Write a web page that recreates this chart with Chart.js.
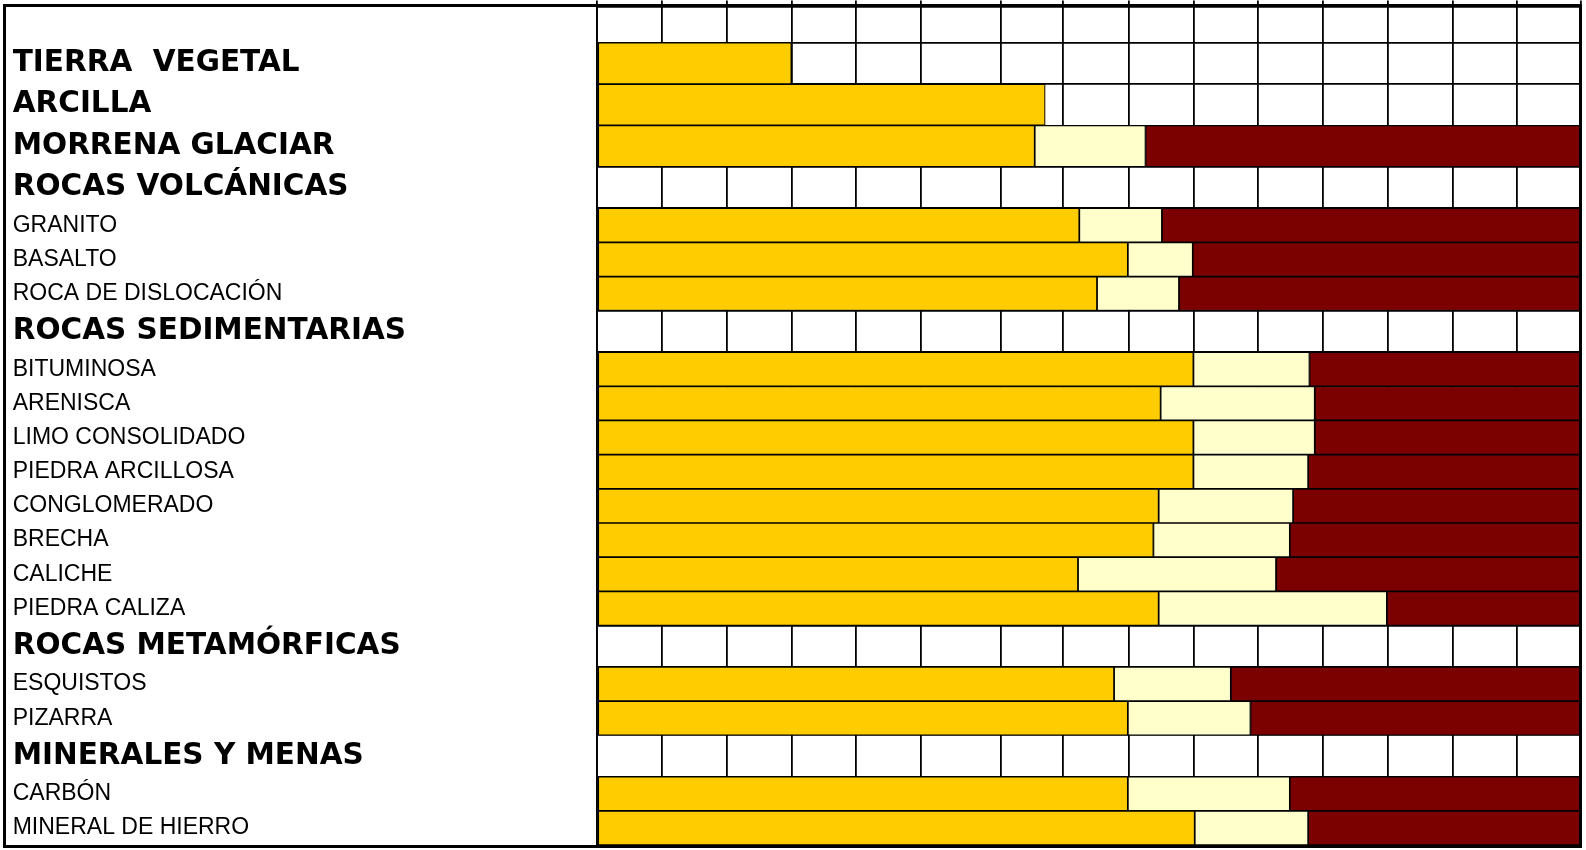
<!DOCTYPE html>
<html lang="es">
<head>
  <meta charset="UTF-8">
  <title>Ripabilidad según velocidad sísmica</title>
  <script src="https://cdn.jsdelivr.net/npm/chart.js"></script>
  <style>
    body {
      margin: 0;
      background: #fff;
    }
    #wrap {
      position: relative;
      width: 1586px;
      height: 850px;
    }
    /* marco negro grueso de la tabla */
    #frame {
      position: absolute;
      left: 3px;
      top: 4px;
      width: 1573px;
      height: 838px;
      border: 3px solid #000;
      pointer-events: none;
    }
  </style>
</head>
<body>
<div id="wrap">
  <canvas id="ripChart"></canvas>
  <div id="frame"></div>
</div>

<script>
  // filas de la tabla (de arriba a abajo)
  const rowLabels = [
    'TIERRA  VEGETAL', 'ARCILLA', 'MORRENA GLACIAR',
    'ROCAS VOLCÁNICAS', 'GRANITO', 'BASALTO', 'ROCA DE DISLOCACIÓN',
    'ROCAS SEDIMENTARIAS', 'BITUMINOSA', 'ARENISCA', 'LIMO CONSOLIDADO',
    'PIEDRA ARCILLOSA', 'CONGLOMERADO', 'BRECHA', 'CALICHE', 'PIEDRA CALIZA',
    'ROCAS METAMÓRFICAS', 'ESQUISTOS', 'PIZARRA',
    'MINERALES Y MENAS', 'CARBÓN', 'MINERAL DE HIERRO'
  ];
  // 1 = título en negrita (fila alta), 0 = material
  const rowIsGroup = [1, 1, 1, 1, 0, 0, 0, 1, 0, 0, 0, 0, 0, 0, 0, 0, 1, 0, 0, 1, 0, 0];

  // velocidad sísmica (pies/s x 1000) donde termina cada zona
  const rippableTo = [2.96, 6.83, 6.67, null, 7.35, 8.09, 7.62, null, 9.09, 8.59, 9.09,
                      9.09, 8.56, 8.48, 7.33, 8.56, null, 7.88, 8.09, null, 8.09, 9.11];
  const marginalTo = [null, null, 8.36, null, 8.61, 9.08, 8.87, null, 10.86, 10.94, 10.94,
                      10.84, 10.61, 10.56, 10.35, 12.04, null, 9.66, 9.96, null, 10.56, 10.84];
  const velocityMax = 15;

  // líneas verticales de la cuadrícula (tal como aparecen en el original)
  const gridTicks = [0, 0.99, 1.98, 2.96, 3.95, 4.94, 6.15, 7.10, 8.10, 9.09,
                     10.08, 11.07, 12.05, 13.04, 14.02, 15];

  // alto relativo de las filas
  const HEAD_ROW = 1.06, GROUP_ROW = 1.21, ITEM_ROW = 1;

  const edges = [0, HEAD_ROW];
  rowLabels.forEach((_, i) => {
    edges.push(edges[edges.length - 1] + (rowIsGroup[i] ? GROUP_ROW : ITEM_ROW));
  });
  const centers = rowLabels.map((_, i) => (edges[i + 1] + edges[i + 2]) / 2);
  const yMax = edges[edges.length - 1];

  function makeSets(group, thickness) {
    const yellow = [], pale = [], dark = [];
    rowLabels.forEach((_, i) => {
      if (!!rowIsGroup[i] !== group) return;
      const y = centers[i];
      if (rippableTo[i] != null) yellow.push({ x: [0, rippableTo[i]], y });
      if (marginalTo[i] != null) {
        pale.push({ x: [rippableTo[i], marginalTo[i]], y });
        dark.push({ x: [marginalTo[i], velocityMax], y });
      }
    });
    const base = {
      stack: 'rows',
      barThickness: thickness,
      borderWidth: 1.2,
      borderColor: '#000',
      borderSkipped: false
    };
    return [
      { ...base, label: 'Ripable', data: yellow, backgroundColor: '#ffcc00' },
      { ...base, label: 'Marginal', data: pale, backgroundColor: '#ffffcc' },
      { ...base, label: 'No ripable', data: dark, backgroundColor: '#7b0000' }
    ];
  }

  // sin márgenes extra por las etiquetas
  function noPad(s) {
    s.paddingTop = 0;
    s.paddingBottom = 0;
    s.paddingLeft = 0;
    s.paddingRight = 0;
  }

  const boldFont = { family: '"DejaVu Sans", sans-serif', size: 29.5, weight: 'bold' };
  const plainFont = { family: '"Liberation Sans", Arial, sans-serif', size: 23, weight: 'normal' };
  const lineColor = '#000';

  new Chart(document.getElementById('ripChart'), {
    type: 'bar',
    data: {
      datasets: [...makeSets(true, 41.4), ...makeSets(false, 34.2)]
    },
    options: {
      indexAxis: 'y',
      responsive: true,
      maintainAspectRatio: false,
      animation: false,
      layout: { padding: { left: 12.7, top: 0.5, right: 5, bottom: 5 } },
      plugins: {
        legend: { display: false }
      },
      scales: {
        x: {
          type: 'linear',
          position: 'top',
          min: 0,
          max: velocityMax,
          stacked: false,
          afterBuildTicks: s => { s.ticks = gridTicks.map(v => ({ value: v })); },
          afterFit: s => { s.height = 6; noPad(s); },
          ticks: { display: false },
          grid: { color: lineColor, lineWidth: 1.8, drawTicks: true, tickLength: 6 },
          border: { display: false }
        },
        y: {
          type: 'linear',
          position: 'left',
          reverse: true,
          min: 0,
          max: yMax,
          offset: false,
          stacked: true,
          afterBuildTicks: s => { s.ticks = edges.map(v => ({ value: v })); },
          afterFit: s => { s.width = 0; noPad(s); },
          ticks: { display: false },
          grid: { color: lineColor, lineWidth: 1.8, drawTicks: false, offset: false },
          border: { display: true, color: lineColor, width: 1.8 }
        },
        yLabels: {
          type: 'linear',
          axis: 'y',
          position: 'left',
          weight: 1,
          reverse: true,
          min: 0,
          max: yMax,
          offset: false,
          afterBuildTicks: s => { s.ticks = centers.map(v => ({ value: v })); },
          afterFit: s => { s.width = 584.6; noPad(s); },
          grid: { display: false, drawTicks: false },
          border: { display: false },
          ticks: {
            autoSkip: false,
            crossAlign: 'far',
            padding: 0,
            color: '#000',
            callback: (v, i) => rowLabels[i],
            font: c => (rowIsGroup[c.index] ? boldFont : plainFont)
          }
        }
      }
    }
  });
</script>
</body>
</html>
